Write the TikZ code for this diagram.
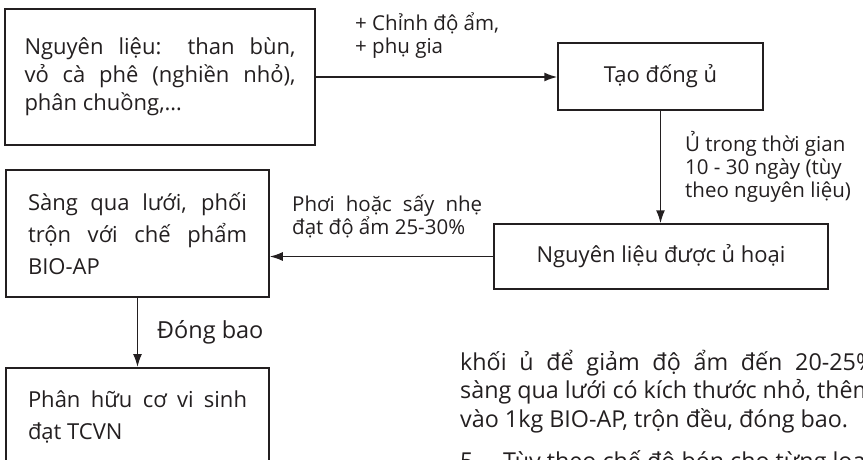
\documentclass[tikz,border=0pt]{standalone}
\usepackage{fontspec}
\setmainfont{Open Sans}
\usetikzlibrary{arrows.meta}
\definecolor{ink}{RGB}{35,31,32}

\begin{document}
\begin{tikzpicture}[> = {Latex[length = 13pt, width = 9pt]}, x = 1pt, y = -1pt,
	box/.style = {draw = ink, text = ink, line width = 1.5pt, inner sep = 0pt, align = left, font = \fontsize{22}{28}\selectfont},
	note/.style = {text = ink, inner sep = 0pt, align = left, font = \fontsize{20.5}{23}\selectfont},
	para/.style = {text = ink, inner sep = 0pt, align = left, font = \fontsize{23.3}{28.5}\selectfont},
	flow/.style = {draw = ink, line width = 1.5pt, ->}]

	% Definition
	
	\def\W{863}		% Width of page
	\def\H{459}		% Height of page

	% Frame
	
	\useasboundingbox (0, 0) rectangle (\W, \H);
	\clip (0, 0) rectangle (\W, \H);

	% Process boxes
	
	\node [box, minimum width = 310pt, minimum height = 136pt] (raw) at (160, 77)
		{\makebox[271pt][s]{Nguyên liệu: than bùn,}\\ \makebox[271pt][s]{vỏ cà phê (nghiền nhỏ),}\\ phân chuồng,…};
	\node [box, minimum width = 205pt, minimum height = 67pt] (heap) at (660.5, 76.5) {Tạo đống ủ};
	\node [box, minimum width = 334pt, minimum height = 65pt] (rotted) at (661, 256.5) {Nguyên liệu được ủ hoại};
	\node [box, minimum width = 263pt, minimum height = 127pt, font = \fontsize{22}{32}\selectfont] (sieve) at (137.5, 233.5)
		{\makebox[219pt][s]{Sàng qua lưới, phối}\\ \makebox[219pt][s]{trộn với chế phẩm}\\ BIO-AP};
	\node [box, minimum width = 263pt, minimum height = 98pt, anchor = north, font = \fontsize{22}{32}\selectfont] (product) at (137.5, 367)
		{\makebox[219pt][s]{Phân hữu cơ vi sinh}\\ đạt TCVN};

	% Arrows between steps
	
	\draw [flow] (raw.east) -- (raw.east -| heap.west);
	\draw [flow] (heap.south) -- (heap.south |- rotted.north);
	\draw [flow] (rotted.west) -- (rotted.west -| sieve.east);
	\draw [flow] (sieve.south) -- (product.north);

	% Step labels (anchored at the baseline of their last line)
	
	\node [note, anchor = base west] (moist) at (355, 53) {+ Chỉnh độ ẩm,\\ + phụ gia};
	\node [note, anchor = base west] (cure) at (685, 197) {Ủ trong thời gian\\ 10 - 30 ngày (tùy\\ theo nguyên liệu)};
	\node [note, anchor = base west] (dry) at (292, 234) {\makebox[190pt][s]{Phơi hoặc sấy nhẹ}\\ đạt độ ẩm 25-30\%};
	\node [note, anchor = base west, font = \fontsize{23.5}{23}\selectfont] (pack) at (157, 338) {Đóng bao};

	% Page text beside the chart
	
	\node [para, anchor = base west] (body) at (460, 427)
		{\makebox[415pt][s]{khối ủ để giảm độ ẩm đến 20-25\%}\\ sàng qua lưới có kích thước nhỏ, thêm\\ vào 1kg BIO-AP, trộn đều, đóng bao.};
	\node [para, anchor = base west] (step) at (460, 469) {5.\quad Tùy theo chế độ bón cho từng loại};

\end{tikzpicture}
\end{document}
